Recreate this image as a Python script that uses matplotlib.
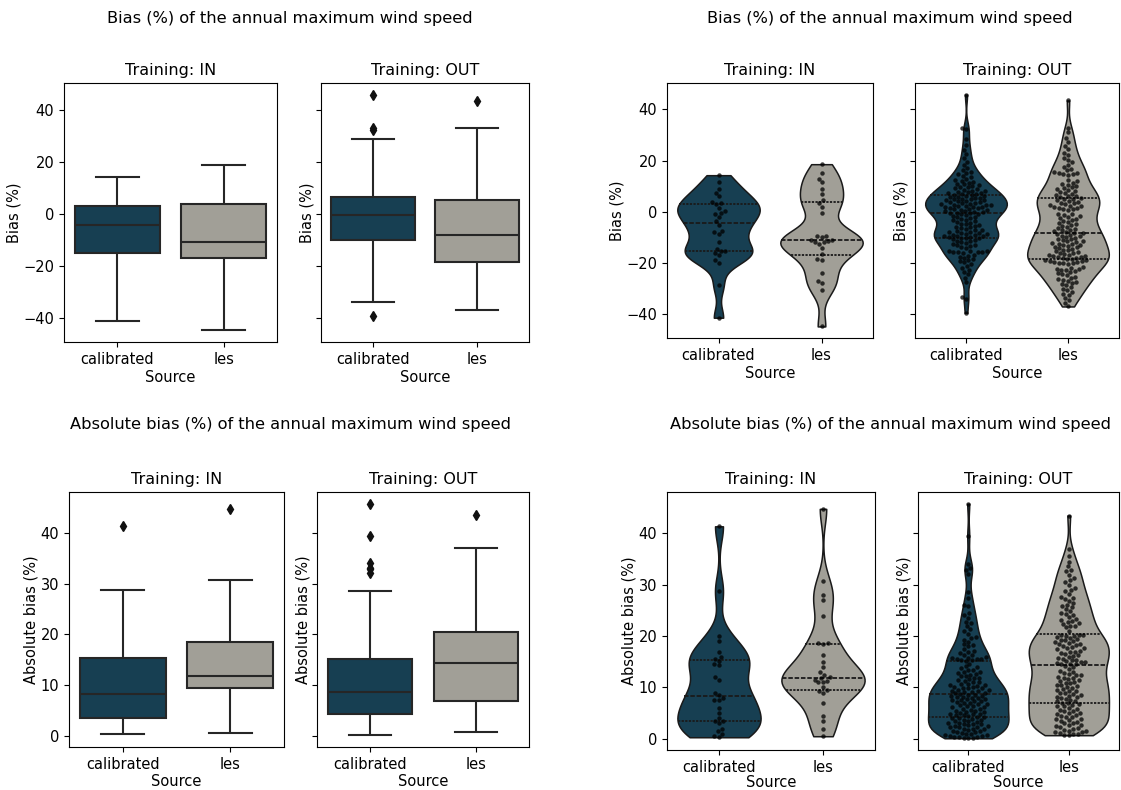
import numpy as np
import pandas as pd
import matplotlib
matplotlib.use("Agg")
import matplotlib.pyplot as plt
import seaborn as sns

W, H = 1121, 790

sources = ["calibrated", "les"]
palette = {"calibrated": "#173f52", "les": "#a19f97"}

bias_in_calibrated = [14.3, 11.5, 9.0, 7.5, 6.0, 4.0, 3.5, 3.0, 1.5, 0.3,
                      -0.5, -1.0, -2.0, -3.5, -5.0, -7.5, -8.0, -8.5, -12.0, -14.5,
                      -15.2, -15.5, -16.0, -17.0, -19.0, -20.0, -28.8, -41.4]
bias_in_les = [18.6, 15.0, 13.0, 11.5, 9.0, 7.0, 4.5, 3.5, 2.0, -0.5,
               -9.3, -9.5, -10.0, -11.0, -11.0, -11.3, -11.8, -12.0, -12.5, -14.0,
               -16.4, -18.5, -18.7, -24.0, -27.0, -28.0, -30.7, -44.8]

bias_out_calibrated = [
    45.8, 32.9, 32.2, 28.6, 26.0, 24.1, 22.5, 21.0,
    19.6, 18.2, 17.0, 16.3, 15.6, 15.1,
    14.6, 14.1, 13.5, 13.0, 12.6, 12.2, 11.8, 11.4, 11.0, 10.7, 10.4, 10.1,
    9.8, 9.5, 9.2, 8.9, 8.6, 8.3, 8.1, 7.9, 7.7, 7.5, 7.3, 7.1, 6.9, 6.7,
    6.5, 6.3, 6.1, 5.9, 5.7, 5.5, 5.3, 5.1, 4.9, 4.8, 4.6, 4.5,
    4.3, 4.1, 3.9, 3.7, 3.5, 3.3, 3.1, 2.9, 2.8, 2.6, 2.5, 2.3, 2.2, 2.0,
    1.9, 1.7, 1.5, 1.3, 1.1, 0.9, 0.8, 0.6, 0.4, 0.2, 0.1, -0.1, -0.3, -0.4,
    -0.6, -0.8, -1.0, -1.3, -1.6, -1.9, -2.2, -2.5, -2.8, -3.1, -3.4, -3.7, -4.0, -4.3,
    -4.6, -4.9, -5.2, -5.5, -5.8, -6.1, -6.4, -6.7, -7.0, -7.3, -7.5, -7.8, -8.0, -8.2,
    -8.4, -8.6, -8.8, -8.9, -9.1, -9.3, -9.4, -9.6, -9.8, -9.9, -10.1, -10.2,
    -10.4, -10.7, -11.0, -11.3, -11.6, -11.9, -12.2, -12.5, -12.8, -13.1, -13.4, -13.7,
    -14.0, -15.3, -15.4, -15.5, -15.6, -15.7,
    -15.8, -15.9, -16.3, -16.7, -17.1, -17.5, -18.0, -18.4, -18.9, -19.3, -19.8,
    -20.5, -21.3, -22.0, -22.8, -23.6, -24.5, -25.8, -27.5,
    -33.2, -34.0, -39.5,
]
bias_out_les = [
    43.5, 32.9, 31.0, 29.0, 27.4, 25.8,
    24.4, 23.1, 22.0, 21.0, 20.2,
    19.3, 18.4, 17.6, 16.9, 16.2, 15.6, 15.0,
    14.5, 14.6, 14.9, 15.3, 12.4, 11.9, 11.4, 10.9, 10.5, 10.1,
    9.7, 9.3, 8.9, 8.5, 8.1, 7.7, 7.3, 6.9, 6.6, 6.3, 6.0, 5.7,
    5.4, 5.1, 4.8, 4.5, 4.2, 3.9, 3.6, 3.3, 3.0, 2.7, 2.4, 2.1, 1.8, 1.6, 1.4, 1.2, 1.0, 0.8,
    -0.7, -1.0, -1.3, -1.6, -1.9, -2.3, -2.7, -3.1, -3.5, -3.9, -4.3,
    -4.7, -5.1, -5.5, -5.9, -6.3, -6.7, -7.0, -7.3, -7.6, -7.9, -8.2,
    -8.4, -8.7, -9.0, -9.3, -9.6, -9.9, -10.2, -10.5, -10.8,
    -11.1, -11.3, -11.6, -11.9, -12.1, -12.4, -12.6, -12.8, -13.0,
    -13.3, -13.6, -13.9, -14.2, -14.5, -14.8, -15.1, -15.4, -15.7, -16.0, -16.3,
    -16.6, -16.8, -17.0, -17.2, -17.4, -17.6, -17.8, -18.0, -18.2, -18.4, -18.6,
    -18.8, -19.0, -19.2, -19.4, -19.6, -19.8, -20.0, -20.1,
    -20.2, -20.3, -21.7, -22.0, -22.3, -22.5, -22.7, -22.9,
    -23.3, -23.7, -24.1, -24.5, -24.9, -25.3, -25.7, -26.1, -26.5, -26.9, -27.3, -27.7,
    -28.2, -28.8, -29.4, -30.0, -30.6, -31.3, -32.0, -32.7,
    -33.6, -34.5, -35.6, -37.0,
]

suptitle_bias = "Bias (%) of the annual maximum wind speed"
suptitle_abs = "Absolute bias (%) of the annual maximum wind speed"

LINE = "#262626"
FS = 10.5


def long_table(cal, les, absolute=False):
    frames = []
    for src, vals in zip(sources, [cal, les]):
        v = np.abs(vals) if absolute else np.asarray(vals, dtype=float)
        frames.append(pd.DataFrame({"Source": src, "value": v}))
    return pd.concat(frames, ignore_index=True)


def px_axes(fig, left, top, right, bottom, **kw):
    return fig.add_axes([left / W, 1 - bottom / H, (right - left) / W,
                         (bottom - top) / H], **kw)


def draw_box(ax, df):
    sns.boxplot(data=df, x="Source", y="value", order=sources, hue="Source",
                hue_order=sources, palette=palette, saturation=1, width=0.8,
                linecolor=LINE, linewidth=1.5, legend=False, ax=ax,
                flierprops=dict(marker="d", markerfacecolor="#111111",
                                markeredgecolor="#111111", markersize=5.5))


def draw_violin(ax, df):
    sns.violinplot(data=df, x="Source", y="value", order=sources, hue="Source",
                   hue_order=sources, palette=palette, saturation=1, cut=0,
                   inner="quart", density_norm="area", width=0.8, bw_adjust=0.6,
                   linecolor="#1a1a1a", linewidth=1.1, legend=False, ax=ax,
                   inner_kws=dict(linewidth=1.3))
    sns.swarmplot(data=df, x="Source", y="value", order=sources, color="black",
                  size=3.2, alpha=0.75, ax=ax)


def panel_pair(fig, rects, df_in, df_out, drawer, ylabel, xpad=4):
    ax_in = px_axes(fig, *rects[0])
    ax_out = px_axes(fig, *rects[1], sharey=ax_in)
    for ax, df, name in [(ax_in, df_in, "IN"), (ax_out, df_out, "OUT")]:
        drawer(ax, df)
        ax.set_title("Training: " + name, fontsize=11.5, pad=6)
        ax.set_xlabel("Source", fontsize=FS, labelpad=xpad)
        ax.set_ylabel(ylabel, fontsize=FS, labelpad=1.5)
        ax.tick_params(labelsize=FS)
    ax_out.tick_params(labelleft=False)
    return ax_in, ax_out


fig = plt.figure(figsize=(W / 100, H / 100), dpi=100)

bias_in = long_table(bias_in_calibrated, bias_in_les)
bias_out = long_table(bias_out_calibrated, bias_out_les)
abs_in = long_table(bias_in_calibrated, bias_in_les, absolute=True)
abs_out = long_table(bias_out_calibrated, bias_out_les, absolute=True)

panel_pair(fig, [(64, 83, 277, 342), (321, 83, 529, 342)],
           bias_in, bias_out, draw_box, "Bias (%)", xpad=2)
panel_pair(fig, [(667, 83, 873, 338), (915, 83, 1119, 338)],
           bias_in, bias_out, draw_violin, "Bias (%)", xpad=2)
panel_pair(fig, [(69, 492, 284, 747), (317, 492, 529, 747)],
           abs_in, abs_out, draw_box, "Absolute bias (%)", xpad=2)
panel_pair(fig, [(667, 492, 875, 750), (918, 492, 1119, 750)],
           abs_in, abs_out, draw_violin, "Absolute bias (%)", xpad=0)

fig.text(290 / W, 1 - 18 / H, suptitle_bias, ha="center", va="center", fontsize=11.7)
fig.text(890 / W, 1 - 18 / H, suptitle_bias, ha="center", va="center", fontsize=11.7)
fig.text(290 / W, 1 - 425 / H, suptitle_abs, ha="center", va="center", fontsize=11.7)
fig.text(890 / W, 1 - 425 / H, suptitle_abs, ha="center", va="center", fontsize=11.7)

fig.savefig("out.png", dpi=100)
